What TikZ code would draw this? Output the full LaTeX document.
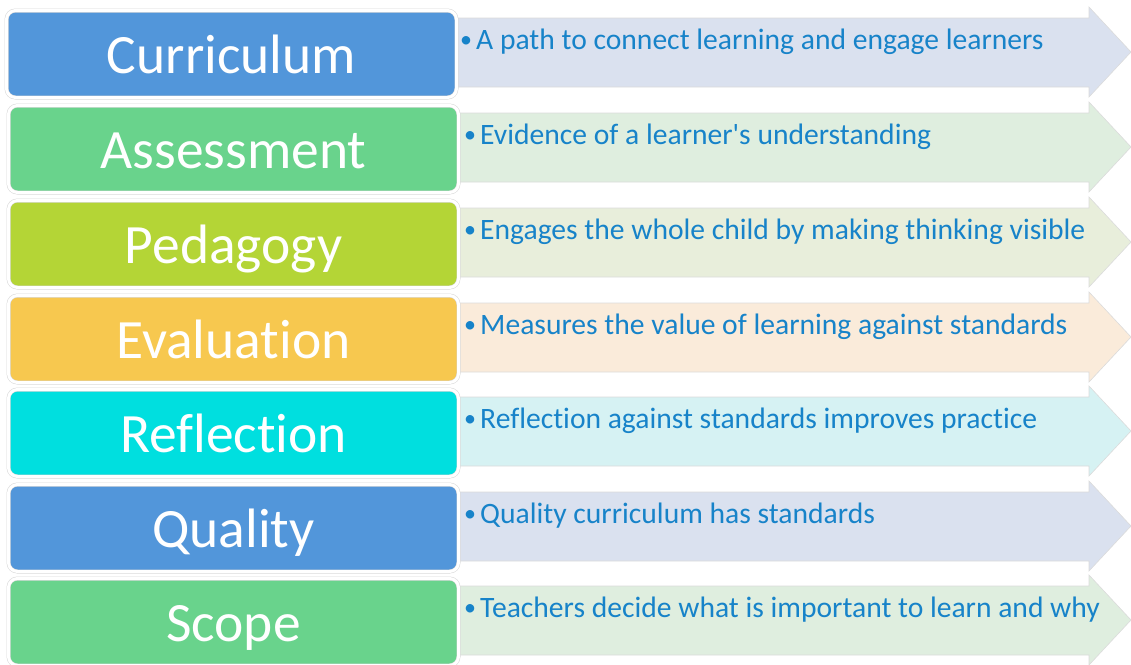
\documentclass[tikz,border=0pt]{standalone}
\usepackage{fontspec}
\newfontfamily\cf{Carlito}[Ligatures={NoCommon}]
\definecolor{bblue}{HTML}{5296DA}
\definecolor{bgreen}{HTML}{69D38C}
\definecolor{blime}{HTML}{B4D536}
\definecolor{borange}{HTML}{F7C84F}
\definecolor{bcyan}{HTML}{00DFDF}
\definecolor{ablue}{HTML}{DAE1EF}
\definecolor{agreen}{HTML}{DFEEDF}
\definecolor{alime}{HTML}{E8EEDB}
\definecolor{aorange}{HTML}{FAEBDA}
\definecolor{acyan}{HTML}{D6F2F3}
\definecolor{txtblue}{HTML}{1783C9}
\tikzset{
  box/.style={draw=black!16, double=white, double distance=3pt, line width=0.5pt,
    rounded corners=9pt, minimum width=450pt, minimum height=87pt, inner sep=0pt},
  arrowshape/.style={draw=black!14, line width=0.6pt},
  lab/.style={text=white, font=\cf\fontsize{55.5}{60}\selectfont, inner sep=0pt},
  desc/.style={text=txtblue, font=\cf\fontsize{29.6}{34}\selectfont, inner sep=0pt},
  bul/.style={text=txtblue, font=\cf\fontsize{24}{28}\selectfont, inner sep=0pt}
}
\begin{document}
\begin{tikzpicture}[x=1pt,y=-1pt]
\useasboundingbox (0,0) rectangle (1131,664);
\foreach \i/\t/\dx/\bc/\ac/\lab/\txt in {
  1/12/-4/bblue/ablue/Curriculum/A path to connect learning and engage learners,
  2/107/0/bgreen/agreen/Assessment/Evidence of a learner's understanding,
  3/202/0/blime/alime/Pedagogy/Engages the whole child by making thinking visible,
  4/297/0/borange/aorange/Evaluation/Measures the value of learning against standards,
  5/391/0/bcyan/acyan/Reflection/Reflection against standards improves practice,
  6/486/0/bblue/ablue/Quality/Quality curriculum has standards,
  7/580/0/bgreen/agreen/Scope/Teachers decide what is important to learn and why}
{
  \draw[arrowshape, fill=\ac] (440,{\t+6}) -- (1089,{\t+6}) -- (1089,{\t-5}) -- (1131,{\t+40})
     -- (1089,{\t+85}) -- (1089,{\t+75}) -- (440,{\t+75}) -- cycle;
}
\foreach \i/\t/\dx/\bc/\ac/\lab/\txt in {
  1/12/-4/bblue/ablue/Curriculum/A path to connect learning and engage learners,
  2/107/0/bgreen/agreen/Assessment/Evidence of a learner's understanding,
  3/202/0/blime/alime/Pedagogy/Engages the whole child by making thinking visible,
  4/297/0/borange/aorange/Evaluation/Measures the value of learning against standards,
  5/391/0/bcyan/acyan/Reflection/Reflection against standards improves practice,
  6/486/0/bblue/ablue/Quality/Quality curriculum has standards,
  7/580/0/bgreen/agreen/Scope/Teachers decide what is important to learn and why}
{
  \node[box, fill=\bc] (b\i) at ({233.5+\dx/2},{\t+42}) {};
  \node[lab, anchor=base] (l\i) at ({233.5+\dx/2},{\t+61}) {\lab};
  \node[bul, anchor=base west] (p\i) at ({464+\dx},{\t+35}) {•};
  \node[desc, anchor=base west] (d\i) at ({480+\dx},{\t+37}) {\txt};
}
\end{tikzpicture}
\end{document}
